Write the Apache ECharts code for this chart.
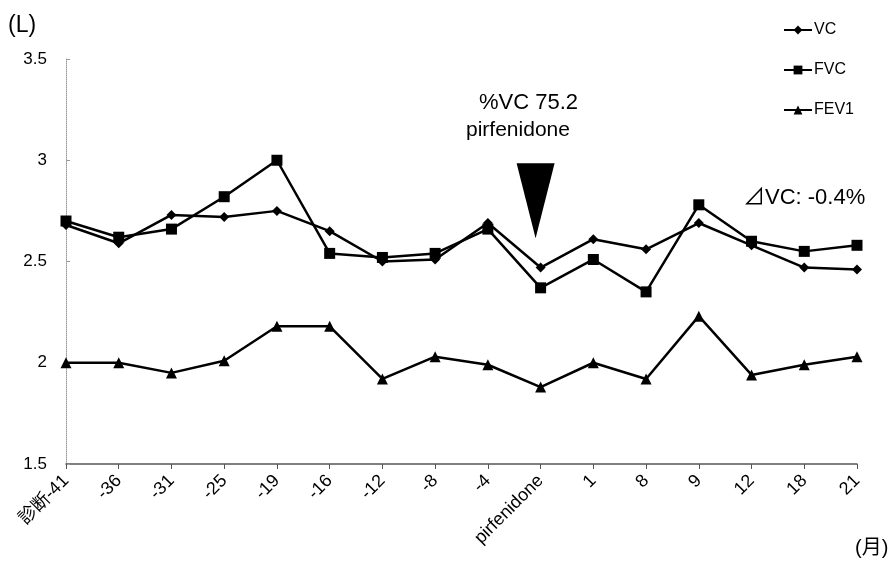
<!DOCTYPE html>
<html><head><meta charset="utf-8">
<script src="https://cdn.jsdelivr.net/npm/echarts@6/dist/echarts.min.js"></script>
<style>html,body{margin:0;padding:0;background:#fff}#c{width:896px;height:570px}</style>
</head><body><div id="c"></div>
<script>
const categories = ['診断-41','-36','-31','-25','-19','-16','-12','-8','-4','pirfenidone','1','8','9','12','18','21'];
const vcValues   = [2.68,2.59,2.73,2.72,2.75,2.65,2.50,2.51,2.69,2.47,2.61,2.56,2.69,2.58,2.47,2.46];
const fvcValues  = [2.70,2.62,2.66,2.82,3.00,2.54,2.52,2.54,2.66,2.37,2.51,2.35,2.78,2.60,2.55,2.58];
const fev1Values = [2.00,2.00,1.95,2.01,2.18,2.18,1.92,2.03,1.99,1.88,2.00,1.92,2.23,1.94,1.99,2.03];
const yTicks = [1.5, 2, 2.5, 3, 3.5];

const FONT = "'Liberation Sans','Noto Sans CJK JP',sans-serif";
const chart = echarts.init(document.getElementById('c'));
const lineStyle = {color:'#000', width:2.5};
chart.setOption({
  animation:false,
  textStyle:{fontFamily:FONT, color:'#000'},
  grid:{left:66, right:39, top:59, bottom:106},
  legend:{
    orient:'vertical', left:778, top:17, itemGap:24, itemWidth:28, itemHeight:11,
    textStyle:{fontSize:16, color:'#000', fontFamily:FONT, padding:[0,0,0,-3]},
    data:['VC','FVC','FEV1']
  },
  xAxis:{
    type:'category', data:categories, boundaryGap:false,
    axisLine:{lineStyle:{color:'#555', width:1.5}},
    axisTick:{show:true, alignWithLabel:true, length:5, lineStyle:{color:'#555'}},
    axisLabel:{rotate:45, fontSize:18, color:'#000', margin:14, interval:0, fontFamily:FONT}
  },
  yAxis:{
    type:'value', min:yTicks[0], max:yTicks[yTicks.length-1], interval:0.5,
    splitLine:{show:false},
    axisLine:{show:true, lineStyle:{color:'#999', width:1, type:'dotted'}},
    axisTick:{show:true, inside:true, length:4, lineStyle:{color:'#999'}},
    axisLabel:{fontSize:17, color:'#000', margin:19, fontFamily:FONT}
  },
  graphic:[
    {type:'text', left:8, top:14, style:{text:'(L)', fontSize:23, fill:'#000', fontFamily:FONT}},
    {type:'text', left:855, top:538, style:{text:'(月)', fontSize:20, fill:'#000', fontFamily:FONT}},
    {type:'text', left:479, top:92, style:{text:'%VC 75.2', fontSize:22, fill:'#000', fontFamily:FONT}},
    {type:'text', left:466, top:120, style:{text:'pirfenidone', fontSize:21, fill:'#000', fontFamily:FONT}},
    {type:'text', left:743, top:187, style:{text:'⊿VC: -0.4%', fontSize:22, fill:'#000', fontFamily:FONT}}
  ],
  series:[
    {name:'VC', type:'line', data:vcValues, symbol:'diamond', symbolSize:10,
     lineStyle:lineStyle, itemStyle:{color:'#000'},
     markPoint:{
       symbol:'triangle', symbolRotate:180, symbolSize:[38,75], symbolOffset:[-5,0],
       itemStyle:{color:'#000'}, label:{show:false},
       data:[{coord:['pirfenidone', 2.80]}]
     }},
    {name:'FVC', type:'line', data:fvcValues, symbol:'rect', symbolSize:11,
     lineStyle:lineStyle, itemStyle:{color:'#000'}},
    {name:'FEV1', type:'line', data:fev1Values, symbol:'triangle', symbolSize:11,
     lineStyle:lineStyle, itemStyle:{color:'#000'}}
  ]
});
</script></body></html>
